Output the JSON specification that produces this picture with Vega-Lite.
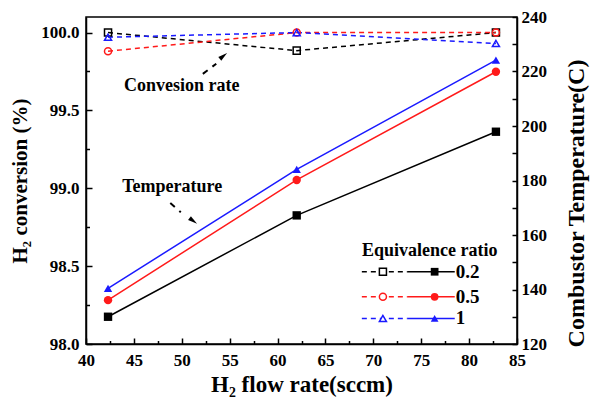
{
  "$schema": "https://vega.github.io/schema/vega-lite/v6.json",
  "width": 431,
  "height": 327,
  "autosize": "none",
  "padding": {"left": 86, "top": 17, "right": 76, "bottom": 57},
  "background": "white",
  "config": {
    "font": "Liberation Serif",
    "view": {"stroke": "black", "strokeWidth": 1.5},
    "axis": {
      "grid": false,
      "domainColor": "black",
      "domainWidth": 1.5,
      "tickColor": "black",
      "tickWidth": 1.5,
      "labelFont": "Liberation Serif",
      "labelFontWeight": "bold",
      "labelFontSize": 17,
      "labelColor": "black",
      "titleFont": "Liberation Serif",
      "titleFontWeight": "bold",
      "titleFontSize": 22,
      "titleColor": "black",
      "labelOverlap": false,
      "labelFlush": false
    }
  },
  "datasets": {
    "conv": [
      {"flow": 42.3, "ratio": "0.2", "conv": 100.0},
      {"flow": 62.0, "ratio": "0.2", "conv": 99.884},
      {"flow": 82.8, "ratio": "0.2", "conv": 100.0},
      {"flow": 42.3, "ratio": "0.5", "conv": 99.88},
      {"flow": 62.0, "ratio": "0.5", "conv": 100.0},
      {"flow": 82.8, "ratio": "0.5", "conv": 100.0},
      {"flow": 42.3, "ratio": "1", "conv": 99.97},
      {"flow": 62.0, "ratio": "1", "conv": 100.0},
      {"flow": 82.8, "ratio": "1", "conv": 99.93}
    ],
    "temp": [
      {"flow": 42.3, "ratio": "0.2", "temp": 130.0},
      {"flow": 62.0, "ratio": "0.2", "temp": 167.2},
      {"flow": 82.8, "ratio": "0.2", "temp": 197.9},
      {"flow": 42.3, "ratio": "0.5", "temp": 136.1},
      {"flow": 62.0, "ratio": "0.5", "temp": 180.2},
      {"flow": 82.8, "ratio": "0.5", "temp": 219.9},
      {"flow": 42.3, "ratio": "1", "temp": 140.4},
      {"flow": 62.0, "ratio": "1", "temp": 184.1},
      {"flow": 82.8, "ratio": "1", "temp": 224.2}
    ],
    "notes": [
      {"label": "Convesion rate", "x": 50.0, "y": 99.66},
      {"label": "Temperature", "x": 49.0, "y": 99.006}
    ],
    "shafts": [
      {"x": 52.2, "y": 99.735, "x2": 53.6, "y2": 99.8},
      {"x": 48.8, "y": 98.905, "x2": 49.9, "y2": 98.846}
    ],
    "heads": [
      {"x": 54.35, "y": 99.85, "angle": 51},
      {"x": 51.2, "y": 98.79, "angle": 127}
    ],
    "legTitle": [{"label": "Equivalence ratio", "x": 75.9, "y": 98.597}],
    "legLines": [
      {"ratio": "0.2", "style": "dash", "x1": 68.8, "x2": 73.6, "y": 98.464},
      {"ratio": "0.2", "style": "solid", "x1": 73.6, "x2": 78.5, "y": 98.464},
      {"ratio": "0.5", "style": "dash", "x1": 68.8, "x2": 73.6, "y": 98.303},
      {"ratio": "0.5", "style": "solid", "x1": 73.6, "x2": 78.5, "y": 98.303},
      {"ratio": "1", "style": "dash", "x1": 68.8, "x2": 73.6, "y": 98.164},
      {"ratio": "1", "style": "solid", "x1": 73.6, "x2": 78.5, "y": 98.164}
    ],
    "legPts": [
      {"ratio": "0.2", "fill": "open", "x": 71.0, "y": 98.464},
      {"ratio": "0.2", "fill": "full", "x": 76.4, "y": 98.464},
      {"ratio": "0.5", "fill": "open", "x": 71.0, "y": 98.303},
      {"ratio": "0.5", "fill": "full", "x": 76.4, "y": 98.303},
      {"ratio": "1", "fill": "open", "x": 71.0, "y": 98.164},
      {"ratio": "1", "fill": "full", "x": 76.4, "y": 98.164}
    ],
    "legLabels": [
      {"ratio": "0.2", "x": 78.6, "y": 98.464},
      {"ratio": "0.5", "x": 78.6, "y": 98.303},
      {"ratio": "1", "x": 78.6, "y": 98.164}
    ]
  },
  "layer": [
    {
      "resolve": {"axis": {"x": "independent", "y": "independent"}},
      "layer": [
        {
          "data": {"name": "conv"},
          "mark": {"type": "line", "strokeDash": [5, 4], "strokeWidth": 1.5},
          "encoding": {
            "x": {
              "field": "flow", "type": "quantitative",
              "scale": {"domain": [40, 85], "nice": false, "zero": false},
              "axis": {
                "title": "H₂ flow rate(sccm)",
                "titleFontSize": 23,
                "values": [40, 45, 50, 55, 60, 65, 70, 75, 80, 85],
                "ticks": false,
                "labelPadding": 8,
                "titlePadding": 5
              }
            },
            "y": {
              "field": "conv", "type": "quantitative",
              "scale": {"domain": [98, 100.1], "nice": false, "zero": false},
              "axis": {
                "orient": "left",
                "title": "H₂ conversion (%)",
                "titleFontSize": 21,
                "values": [98, 98.5, 99, 99.5, 100],
                "format": ".1f",
                "ticks": false,
                "labelPadding": 7,
                "titlePadding": 10
              }
            },
            "color": {"field": "ratio", "type": "nominal", "scale": {"domain": ["0.2", "0.5", "1"], "range": ["#000000", "#ff1a1a", "#1a1aff"]}, "legend": null},
            "detail": {"field": "ratio"}
          }
        },
        {
          "data": {"name": "conv"},
          "mark": {"type": "point", "filled": false, "size": 50, "strokeWidth": 1.5, "opacity": 1},
          "encoding": {
            "x": {
              "field": "flow", "type": "quantitative",
              "axis": {"orient": "top", "offset": -327, "values": [40, 45, 50, 55, 60, 65, 70, 75, 80, 85], "tickSize": 6, "labels": false, "domain": false, "title": null}
            },
            "y": {
              "field": "conv", "type": "quantitative",
              "axis": {"orient": "right", "offset": -431, "values": [98, 98.5, 99, 99.5, 100], "tickSize": 6, "labels": false, "domain": false, "title": null}
            },
            "color": {"field": "ratio", "type": "nominal", "legend": null},
            "shape": {"field": "ratio", "type": "nominal", "scale": {"domain": ["0.2", "0.5", "1"], "range": ["square", "circle", "triangle-up"]}, "legend": null}
          }
        },
        {
          "data": {"name": "notes"},
          "mark": {"type": "text", "font": "Liberation Serif", "fontWeight": "bold", "fontSize": 18, "color": "black", "align": "center", "baseline": "middle"},
          "encoding": {
            "x": {
              "field": "x", "type": "quantitative",
              "axis": {"orient": "top", "offset": -327, "values": [42.5, 47.5, 52.5, 57.5, 62.5, 67.5, 72.5, 77.5, 82.5], "tickSize": 3.5, "labels": false, "domain": false, "title": null}
            },
            "y": {
              "field": "y", "type": "quantitative",
              "axis": {"orient": "right", "offset": -431, "values": [98.25, 98.75, 99.25, 99.75], "tickSize": 3.5, "labels": false, "domain": false, "title": null}
            },
            "text": {"field": "label"}
          }
        },
        {
          "data": {"name": "shafts"},
          "mark": {"type": "rule", "color": "black", "strokeWidth": 2, "strokeDash": [6, 6]},
          "encoding": {
            "x": {"field": "x", "type": "quantitative", "axis": null},
            "y": {"field": "y", "type": "quantitative", "axis": null},
            "x2": {"field": "x2"},
            "y2": {"field": "y2"}
          }
        },
        {
          "data": {"name": "heads"},
          "mark": {"type": "point", "shape": "M-0.45,0.9L0,-0.9L0.45,0.9Z", "filled": true, "color": "black", "size": 110, "opacity": 1},
          "encoding": {
            "x": {"field": "x", "type": "quantitative", "axis": null},
            "y": {"field": "y", "type": "quantitative", "axis": null},
            "angle": {"field": "angle", "type": "quantitative", "scale": null}
          }
        },
        {
          "data": {"name": "legTitle"},
          "mark": {"type": "text", "font": "Liberation Serif", "fontWeight": "bold", "fontSize": 18, "color": "black", "align": "center", "baseline": "middle"},
          "encoding": {
            "x": {"field": "x", "type": "quantitative", "axis": null},
            "y": {"field": "y", "type": "quantitative", "axis": null},
            "text": {"field": "label"}
          }
        },
        {
          "data": {"name": "legLines"},
          "transform": [{"filter": "datum.style === 'dash'"}],
          "mark": {"type": "rule", "strokeWidth": 1.5, "strokeDash": [5, 4]},
          "encoding": {
            "x": {"field": "x1", "type": "quantitative", "axis": null},
            "x2": {"field": "x2"},
            "y": {"field": "y", "type": "quantitative", "axis": null},
            "color": {"field": "ratio", "type": "nominal", "legend": null}
          }
        },
        {
          "data": {"name": "legLines"},
          "transform": [{"filter": "datum.style === 'solid'"}],
          "mark": {"type": "rule", "strokeWidth": 1.5},
          "encoding": {
            "x": {"field": "x1", "type": "quantitative", "axis": null},
            "x2": {"field": "x2"},
            "y": {"field": "y", "type": "quantitative", "axis": null},
            "color": {"field": "ratio", "type": "nominal", "legend": null}
          }
        },
        {
          "data": {"name": "legPts"},
          "transform": [{"filter": "datum.fill === 'open'"}],
          "mark": {"type": "point", "filled": true, "fill": "white", "size": 50, "strokeWidth": 1.5, "opacity": 1},
          "encoding": {
            "x": {"field": "x", "type": "quantitative", "axis": null},
            "y": {"field": "y", "type": "quantitative", "axis": null},
            "stroke": {"field": "ratio", "type": "nominal", "scale": {"domain": ["0.2", "0.5", "1"], "range": ["#000000", "#ff1a1a", "#1a1aff"]}, "legend": null},
            "shape": {"field": "ratio", "type": "nominal", "legend": null}
          }
        },
        {
          "data": {"name": "legPts"},
          "transform": [{"filter": "datum.fill === 'full'"}],
          "mark": {"type": "point", "filled": true, "size": 60, "opacity": 1},
          "encoding": {
            "x": {"field": "x", "type": "quantitative", "axis": null},
            "y": {"field": "y", "type": "quantitative", "axis": null},
            "color": {"field": "ratio", "type": "nominal", "legend": null},
            "shape": {"field": "ratio", "type": "nominal", "legend": null}
          }
        },
        {
          "data": {"name": "legLabels"},
          "mark": {"type": "text", "font": "Liberation Serif", "fontWeight": "bold", "fontSize": 19, "color": "black", "align": "left", "baseline": "middle"},
          "encoding": {
            "x": {"field": "x", "type": "quantitative", "axis": null},
            "y": {"field": "y", "type": "quantitative", "axis": null},
            "text": {"field": "ratio"}
          }
        }
      ]
    },
    {
      "resolve": {"axis": {"y": "independent"}},
      "layer": [
        {
          "data": {"name": "temp"},
          "mark": {"type": "line", "strokeWidth": 1.5},
          "encoding": {
            "x": {"field": "flow", "type": "quantitative", "axis": null},
            "y": {
              "field": "temp", "type": "quantitative",
              "scale": {"domain": [120, 240], "nice": false, "zero": false},
              "axis": {
                "orient": "right",
                "title": "Combustor Temperature(C)",
                "titleFontSize": 24,
                "titleAngle": 270,
                "titleBaseline": "top",
                "titleY": 186,
                "values": [120, 140, 160, 180, 200, 220, 240],
                "ticks": false,
                "labelPadding": 4,
                "titlePadding": 18
              }
            },
            "color": {"field": "ratio", "type": "nominal", "scale": {"domain": ["0.2", "0.5", "1"], "range": ["#000000", "#ff1a1a", "#1a1aff"]}, "legend": null},
            "detail": {"field": "ratio"}
          }
        },
        {
          "data": {"name": "temp"},
          "mark": {"type": "point", "filled": true, "size": 70, "opacity": 1},
          "encoding": {
            "x": {"field": "flow", "type": "quantitative", "axis": null},
            "y": {
              "field": "temp", "type": "quantitative",
              "axis": {
                "orient": "left", "offset": -431,
                "values": [120, 130, 140, 150, 160, 170, 180, 190, 200, 210, 220, 230, 240],
                "tickSize": 5,
                "labels": false, "domain": false, "title": null
              }
            },
            "color": {"field": "ratio", "type": "nominal", "legend": null},
            "shape": {"field": "ratio", "type": "nominal", "scale": {"domain": ["0.2", "0.5", "1"], "range": ["square", "circle", "triangle-up"]}, "legend": null}
          }
        }
      ]
    }
  ],
  "resolve": {"scale": {"y": "independent"}, "axis": {"x": "independent", "y": "independent"}}
}
